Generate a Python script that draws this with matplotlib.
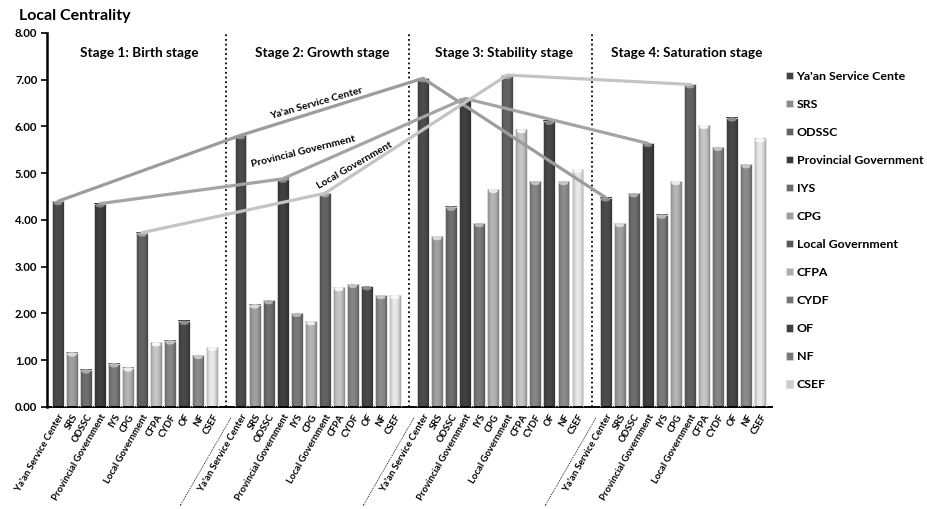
import numpy as np
import matplotlib
matplotlib.use("Agg")
import matplotlib.pyplot as plt
from matplotlib.patches import Rectangle, Ellipse, Patch

plt.rcParams['font.family'] = ['Lato', 'DejaVu Sans']

# ---- data -------------------------------------------------------------
actors = ["Ya'an Service Center", "SRS", "ODSSC", "Provincial Government",
          "IYS", "CPG", "Local Government", "CFPA", "CYDF", "OF", "NF", "CSEF"]
legend_names = ["Ya'an Service Cente", "SRS", "ODSSC", "Provincial Government",
                "IYS", "CPG", "Local Government", "CFPA", "CYDF", "OF", "NF", "CSEF"]
stages = ["Stage 1: Birth stage", "Stage 2: Growth stage",
          "Stage 3: Stability stage", "Stage 4: Saturation stage"]

stage1 = [4.40, 1.16, 0.80, 4.35, 0.93, 0.84, 3.73, 1.38, 1.42, 1.84, 1.11, 1.28]
stage2 = [5.81, 2.19, 2.28, 4.88, 2.01, 1.83, 4.57, 2.56, 2.63, 2.58, 2.39, 2.39]
stage3 = [7.03, 3.65, 4.28, 6.60, 3.93, 4.66, 7.10, 5.94, 4.83, 6.12, 4.83, 5.09]
stage4 = [4.48, 3.93, 4.57, 5.64, 4.11, 4.83, 6.90, 6.03, 5.56, 6.19, 5.19, 5.74]
stage_values = [stage1, stage2, stage3, stage4]

# actors whose values are traced across stages
trend_actors = ["Ya'an Service Center", "Provincial Government", "Local Government"]
trend_colors = ["#9c9c9c", "#a4a4a4", "#c4c4c4"]

bar_grays = [0.26, 0.55, 0.38, 0.22, 0.42, 0.62, 0.34, 0.68, 0.46, 0.25, 0.48, 0.80]

# ---- layout -----------------------------------------------------------
n_act = len(actors)
step = n_act + 1                 # one spacer slot between stages
separator = "." * 46

positions = []
labels = []
for s in range(len(stages)):
    for j in range(n_act):
        positions.append(s * step + j)
        labels.append(actors[j])
    if s < len(stages) - 1:
        positions.append(s * step + n_act)
        labels.append(separator)

fig = plt.figure(figsize=(9.27, 5.09), dpi=100)
ax = fig.add_axes([0.0507, 0.2004, 0.7821, 0.7348])

bar_w = 0.85
xmin, xmax = -0.78, 50.85
ymin, ymax = 0, 8


def shaded_bar(ax, xc, h, g):
    """Cylinder-like bar: horizontal shading, light rim and top cap."""
    t = np.linspace(0, 1, 40)
    prof = g * (0.80 + 0.35 * np.sin(np.pi * t) ** 0.8)
    prof[:2] = np.minimum(g + 0.25, 1.0)
    prof = np.clip(prof, 0, 1)
    img = np.repeat(prof[None, :, None], 3, axis=2)
    x0 = xc - bar_w / 2
    ax.imshow(img, extent=[x0, x0 + bar_w, 0, h], aspect='auto',
              interpolation='bilinear', zorder=2)
    ax.add_patch(Rectangle((x0, 0), bar_w, h, fill=False,
                           edgecolor=(0.88, 0.88, 0.88), lw=0.6, zorder=3))
    ax.add_patch(Ellipse((xc, h - 0.04), bar_w * 0.75, 0.09,
                         facecolor=str(min(g + 0.3, 0.97)), edgecolor='none',
                         zorder=3))


for s, vals in enumerate(stage_values):
    for j, v in enumerate(vals):
        shaded_bar(ax, s * step + j, v, bar_grays[j])

# stage separators
for s in range(len(stages) - 1):
    ax.axvline(s * step + n_act, color='black', ls=(0, (1, 1.6)), lw=1.3,
               zorder=1)

# stage titles
for s, name in enumerate(stages):
    ax.text(s * step + (n_act - 1) / 2 + 0.3, 7.58, name, ha='center',
            va='center', fontsize=9.8, fontweight='bold', color='black')

# trend lines through bar tops
for name, col in zip(trend_actors, trend_colors):
    j = actors.index(name)
    xs = [s * step + j for s in range(len(stages))]
    ys = [stage_values[s][j] for s in range(len(stages))]
    ax.plot(xs, ys, color=col, lw=2.3, solid_capstyle='round', zorder=4)

ax.set_xlim(xmin, xmax)
ax.set_ylim(ymin, ymax)


# labels along the trend lines (placed in pixel terms via display transform)
def label_at(px, py, text, rot):
    x, y = ax.transData.inverted().transform(
        fig.transFigure.transform((px / 927, 1 - py / 509)))
    ax.text(x, y, text, rotation=rot, ha='center', va='center',
            fontsize=7.5, fontweight='bold', rotation_mode='anchor', zorder=5)


label_at(316, 103, "Ya'an Service Center", 16)
label_at(303, 152, "Provincial Government", 14)
label_at(355, 166, "Local Government", 30)

# axes styling
ax.set_yticks(np.arange(0, 9, 1))
ax.set_yticklabels([f"{v:.2f}" for v in range(9)], fontsize=8.2,
                   fontweight='bold')
ax.tick_params(axis='y', direction='out', length=4, width=1.2, pad=3)
ax.set_xticks(positions)
ax.set_xticklabels(labels, rotation=60, ha='right', va='top',
                   rotation_mode='anchor', fontsize=6.8, fontweight='bold')
ax.tick_params(axis='x', length=0, pad=4)
for side in ['top', 'right']:
    ax.spines[side].set_visible(False)
ax.spines['left'].set_linewidth(1.8)
ax.spines['bottom'].set_linewidth(1.4)

# legend
handles = [Patch(facecolor=str(g), edgecolor=(0.85, 0.85, 0.85), lw=0.5)
           for g in bar_grays]
fig.legend(handles, legend_names, loc='upper left',
           bbox_to_anchor=(0.836, 0.883), frameon=False,
           handlelength=0.55, handleheight=0.55, handletextpad=0.3,
           labelspacing=1.38, prop={'weight': 'bold', 'size': 8.9})

fig.text(0.02, 0.969, "Local Centrality", fontsize=11.5, fontweight='bold',
         va='center', ha='left')

fig.savefig("out.png", dpi=100)
